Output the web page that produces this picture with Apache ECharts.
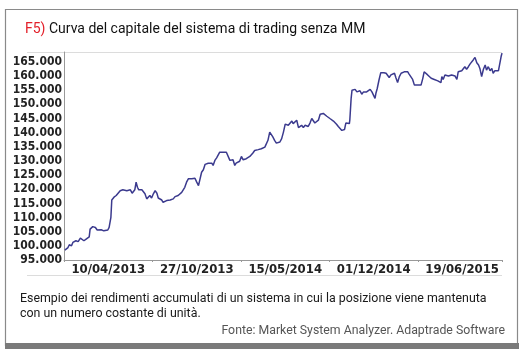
<!DOCTYPE html>
<html><head><meta charset="utf-8">
<script src="https://cdn.jsdelivr.net/npm/echarts@6/dist/echarts.min.js"></script>
<style>html,body{margin:0;padding:0;background:#fff}#c{width:523px;height:360px}</style>
</head><body><div id="c"></div>
<script>
// days since 31/12/2012
var days = [
2,5,9,12,17,20,24,27,32,37,41,45,50,54,57,59,65,71,75,78,
84,90,93,99,102,106,108,113,118,122,127,133,137,142,146,150,154,158,160,163,
166,169,172,176,179,183,187,191,194,198,202,206,210,213,217,221,224,228,232,236,
240,243,247,251,255,258,262,266,270,273,277,281,285,289,292,296,300,304,307,311,
315,319,323,326,330,334,337,341,345,349,352,356,359,363,367,371,375,378,382,386,
389,393,397,401,405,408,412,416,420,423,427,431,435,439,442,446,450,454,457,461,
465,469,472,476,480,484,488,492,496,500,503,507,511,515,518,522,526,530,533,537,
541,545,549,552,556,560,564,567,571,575,579,582,586,590,594,597,601,605,609,613,
616,620,624,628,631,634,637,641,645,646,649,651,654,658,662,665,669,673,677,680,
684,688,692,696,699,703,705,708,712,716,719,723,728,732,735,739,743,747,750,754,
758,762,766,769,773,777,780,784,788,792,796,799,803,807,811,814,818,822,826,830,
833,837,841,845,848,852,854,857,861,865,869,872,876,880,884,888,891,895,899,903,
906,910,914,918,921,925,929,933,937,940,944,948,952,955,959,963,967,970,974,978,
982,985,988,990
];
var equity = [
98500,99200,99400,100400,100000,101200,100800,101800,101500,102700,102000,101800,102400,101800,103200,105900,106800,106500,105600,105300,
105700,105300,105800,105600,106500,110100,116200,117200,117800,118100,119500,119800,119300,119500,119300,119800,118600,118000,119800,122500,
120700,119800,119300,119800,120500,118400,116600,116900,117800,116900,118400,119500,118600,116900,117200,116200,115400,114800,116000,116600,
116200,116900,116600,117400,116900,117800,118400,118900,119500,120700,122500,123700,123900,123700,123300,123900,122500,121300,121900,126000,
126900,128800,129000,129200,128800,129200,128400,130200,131100,131600,133100,132900,133100,132600,133100,132600,130200,129900,130400,128400,
129200,129000,129900,131600,130400,130200,130800,131100,131600,132000,132800,133700,133100,134000,133700,134300,133700,134900,135500,137300,
140200,139700,138500,137300,136300,136700,136700,137900,140200,143000,143200,142600,143200,144100,143200,143400,144400,141800,142200,142600,
141800,142600,143200,142200,143400,145000,144400,143400,143800,144400,146500,147000,146800,146200,145800,145300,145000,144600,144100,143800,
143000,142200,141800,140800,140200,141100,143400,143000,143200,144400,152100,155000,154800,155300,154400,154100,154800,153600,154400,153900,
154400,155000,155300,154400,155000,152100,153900,155600,158600,161200,161500,161200,161000,161200,159500,160400,160000,161000,159500,157700,
159800,161000,161200,161500,161900,161500,160700,160000,158800,156800,156200,156800,156500,156800,159200,161500,161200,160400,160700,159200,
158800,158800,158600,158300,158800,157700,159800,158800,160400,160700,160000,160700,160400,161000,160000,158800,161500,161200,161900,162400,
163300,162400,163300,164300,164700,165700,166600,164700,163900,162700,159800,162400,163900,162100,163300,161900,162700,161000,161900,161200,
161900,162400,166900,168100
];
var titleCode = 'F5)';
var titleText = 'Curva del capitale del sistema di trading senza MM';
var captionLines = ['Esempio dei rendimenti accumulati di un sistema in cui la posizione viene mantenuta', 'con un numero costante di unità.'];
var sourceText = 'Fonte: Market System Analyzer. Adaptrade Software';

var base = Date.UTC(2012, 11, 31);
function fmtDate(v) {
  var d = new Date(base + v * 86400000);
  var dd = ('0' + d.getUTCDate()).slice(-2), mm = ('0' + (d.getUTCMonth() + 1)).slice(-2);
  return dd + '/' + mm + '/' + d.getUTCFullYear();
}
function fmtNum(v) { return String(v).replace(/(\d)(?=(\d{3})+$)/g, '$1.'); }

var chart = echarts.init(document.getElementById('c'), null, {renderer: 'canvas'});
var labelFont = {fontFamily: "'Liberation Sans Narrow','DejaVu Sans Condensed',sans-serif", fontWeight: 'bold', fontSize: 12, color: '#222'};
chart.setOption({
  animation: false,
  backgroundColor: '#fff',
  title: {
    left: 20, top: 17,
    text: '{r|' + titleCode + '} ' + titleText,
    textStyle: {fontFamily: 'Roboto', fontSize: 14, fontWeight: 'normal', color: '#111',
      rich: {r: {fontFamily: 'Roboto', fontSize: 14, color: '#e3202a'}}}
  },
  grid: {left: 64, right: 21, top: 52, bottom: 100},
  xAxis: [{
    type: 'value', min: 0, max: 990, interval: 100,
    axisLine: {lineStyle: {color: '#999', width: 1}},
    axisTick: {show: false}, splitLine: {show: false},
    axisLabel: Object.assign({margin: 3, showMaxLabel: false, showMinLabel: false,
      formatter: function (v) { return (v % 200 === 100) ? fmtDate(v) : ''; }}, labelFont, {fontSize: 13})
  }, {
    type: 'value', min: 0, max: 990, interval: 200, position: 'bottom',
    axisLine: {show: false}, splitLine: {show: false}, axisLabel: {show: false},
    axisTick: {show: true, length: 2, lineStyle: {color: '#999'}}
  }],
  yAxis: {
    type: 'value', min: 95000, max: 168500, interval: 5000,
    axisLine: {show: true, lineStyle: {color: '#999', width: 1}},
    axisTick: {show: false}, splitLine: {show: false},
    axisLabel: Object.assign({margin: 2, showMaxLabel: false, formatter: fmtNum}, labelFont)
  },
  series: [{
    type: 'line', xAxisIndex: 0, showSymbol: false, symbol: 'none',
    lineStyle: {color: '#3b3a8e', width: 1.5},
    data: days.map(function (d, i) { return [d, equity[i]]; })
  }],
  graphic: [
    {type: 'rect', shape: {x: 5.5, y: 9.5, width: 512, height: 336}, style: {fill: 'none', stroke: '#8a8a8a', lineWidth: 1.2}, silent: true},
    {type: 'rect', shape: {x: 5, y: 343, width: 514, height: 6}, style: {fill: '#7a7a7a'}, silent: true},
    {type: 'line', shape: {x1: 27, y1: 52.5, x2: 502, y2: 52.5}, style: {stroke: '#dcdcdc', lineWidth: 1}, silent: true},
    {type: 'line', shape: {x1: 27, y1: 275.5, x2: 502, y2: 275.5}, style: {stroke: '#dcdcdc', lineWidth: 1}, silent: true},
    {type: 'text', left: 20, top: 291, style: {text: captionLines.join('\n'), fontFamily: 'Roboto', fontSize: 12.4, lineHeight: 15, fill: '#1a1a1a'}},
    {type: 'text', right: 18, top: 325, style: {text: sourceText, fontFamily: 'Roboto', fontSize: 12.3, fill: '#555'}}
  ]
});
</script></body></html>
